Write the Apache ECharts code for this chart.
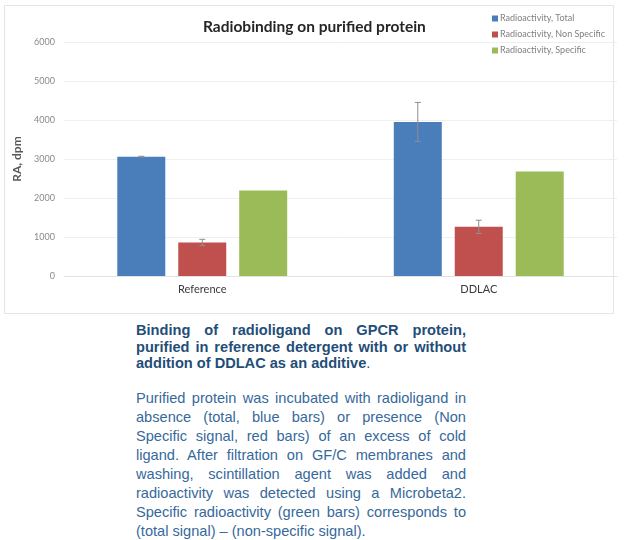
<!DOCTYPE html>
<html>
<head>
<meta charset="utf-8">
<script src="https://cdn.jsdelivr.net/npm/echarts@6/dist/echarts.min.js"></script>
<style>
  body { margin: 0; background: #fff; width: 627px; height: 540px; overflow: hidden; position: relative; }
  #chart { position: absolute; left: 0; top: 0; width: 627px; height: 320px; }
  .caption { position: absolute; left: 136px; width: 330px; font-family: "Liberation Sans", Arial, sans-serif; font-size: 14.6px; }
  .caption div { white-space: nowrap; text-align: justify; text-align-last: justify; }
  .caption div.last { text-align-last: left; }
  #head { top: 322px; color: #1f4e79; font-weight: bold; line-height: 16.5px; }
  #body { top: 388.5px; color: #36699b; line-height: 19px; }
</style>
</head>
<body>
<div id="chart"></div>
<div class="caption" id="head">
  <div>Binding of radioligand on GPCR protein,</div>
  <div>purified in reference detergent with or without</div>
  <div class="last">addition of DDLAC as an additive<span style="font-weight:normal">.</span></div>
</div>
<div class="caption" id="body">
  <div>Purified protein was incubated with radioligand in</div>
  <div>absence (total, blue bars) or presence (Non</div>
  <div>Specific signal, red bars) of an excess of cold</div>
  <div>ligand. After filtration on GF/C membranes and</div>
  <div>washing, scintillation agent was added and</div>
  <div>radioactivity was detected using a Microbeta2.</div>
  <div>Specific radioactivity (green bars) corresponds to</div>
  <div class="last">(total signal) – (non-specific signal).</div>
</div>
<script>
var categories = ["Reference", "DDLAC"];
var seriesNames = ["Radioactivity, Total", "Radioactivity, Non Specific", "Radioactivity, Specific"];
var totalValues = [3060, 3950];
var totalErrors = [10, 500];
var nonSpecificValues = [860, 1260];
var nonSpecificErrors = [80, 170];
var specificValues = [2190, 2680];
var yTicks = [0, 1000, 2000, 3000, 4000, 5000, 6000];

var colors = ["#4a7ebb", "#c0504d", "#9bbb59"];
var barWidth = 48;
var barGap = "27%";

var dom = document.getElementById("chart");
var myChart = echarts.init(dom);

// error bar drawn on top of bar number "idx" of the group
function errorBar(idx) {
    return function (params, api) {
        var x = api.value(0), v = api.value(1), e = api.value(2);
        var layout = api.barLayout({count: 3, barWidth: barWidth, barGap: barGap});
        var px = api.coord([x, v])[0] + layout[idx].offsetCenter;
        var top = api.coord([x, v + e])[1];
        var bot = api.coord([x, v - e])[1];
        var st = {stroke: "#8f8f8f", lineWidth: 1};
        return {
            type: "group",
            children: [
                {type: "line", shape: {x1: px, y1: top, x2: px, y2: bot}, style: st},
                {type: "line", shape: {x1: px - 3, y1: top, x2: px + 3, y2: top}, style: st},
                {type: "line", shape: {x1: px - 3, y1: bot, x2: px + 3, y2: bot}, style: st}
            ]
        };
    };
}

function errData(vals, errs) {
    return vals.map(function (v, i) { return [i, v, errs[i]]; });
}

var option = {
    animation: false,
    color: colors,
    textStyle: {fontFamily: "Lato, 'Open Sans', sans-serif"},
    title: {
        text: "Radiobinding on purified protein",
        left: 198,
        top: 14,
        textStyle: {fontSize: 15.5, fontWeight: "bold", color: "#262626", fontFamily: "Lato, sans-serif"}
    },
    legend: {
        orient: "vertical",
        left: 487,
        top: 8,
        icon: "rect",
        itemWidth: 6,
        itemHeight: 6,
        itemGap: 5,
        data: seriesNames,
        textStyle: {fontSize: 9, color: "#808080", lineHeight: 11, padding: [0, 0, 0, -3]}
    },
    graphic: [{
        type: "rect",
        shape: {x: 4.5, y: 5.5, width: 609, height: 308},
        style: {fill: "none", stroke: "#e4e4e4", lineWidth: 1},
        silent: true
    }],
    grid: {left: 64, right: 10, top: 42, bottom: 44},
    xAxis: {
        type: "category",
        data: categories,
        axisLine: {lineStyle: {color: "#e2e2e2"}},
        axisTick: {show: false},
        axisLabel: {fontSize: 11, color: "#3a3a3a", margin: 8}
    },
    yAxis: {
        type: "value",
        min: yTicks[0],
        max: yTicks[yTicks.length - 1],
        interval: 1000,
        name: "RA, dpm",
        nameLocation: "middle",
        nameGap: 33,
        nameTextStyle: {fontSize: 12, fontWeight: "bold", color: "#595959"},
        axisLine: {show: false},
        axisTick: {show: false},
        axisLabel: {fontSize: 9, color: "#8a8a8a", margin: 9, formatter: function (v) { return String(v); }},
        splitLine: {lineStyle: {color: "#efefef"}}
    },
    series: [
        {name: seriesNames[0], type: "bar", barWidth: barWidth, barGap: barGap, data: totalValues},
        {name: seriesNames[1], type: "bar", barWidth: barWidth, barGap: barGap, data: nonSpecificValues},
        {name: seriesNames[2], type: "bar", barWidth: barWidth, barGap: barGap, data: specificValues},
        {type: "custom", renderItem: errorBar(0), data: errData(totalValues, totalErrors), z: 10, silent: true},
        {type: "custom", renderItem: errorBar(1), data: errData(nonSpecificValues, nonSpecificErrors), z: 10, silent: true}
    ]
};

myChart.setOption(option, true);
window.onresize = function () {
    myChart.resize();
};
</script>
</body>
</html>
